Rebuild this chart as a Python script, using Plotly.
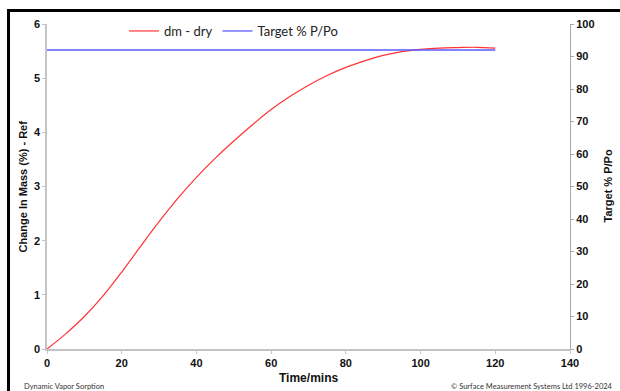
import plotly.graph_objects as go

time_min = [0, 5, 10, 15, 20, 25, 30, 35, 40, 45, 50, 55, 60, 65, 70, 75, 80, 85, 90, 95, 100, 105, 110, 115, 120]
dm_dry = [0, 0.28, 0.60, 0.98, 1.42, 1.89, 2.35, 2.78, 3.17, 3.52, 3.84, 4.14, 4.42, 4.66, 4.87, 5.05, 5.20, 5.32, 5.42, 5.49, 5.53, 5.555, 5.565, 5.57, 5.555]
target_time = [0, 120]
target_pp = [92, 92]

x_ticks = [0, 20, 40, 60, 80, 100, 120, 140]
y1_ticks = [0, 1, 2, 3, 4, 5, 6]
y2_ticks = [0, 10, 20, 30, 40, 50, 60, 70, 80, 90, 100]

W, H = 620, 391
L, R, T, B = 47, 50, 24, 42
pw, ph = W - L - R, H - T - B


def px_x(p):
    return (p - L) / pw


def px_y(p):
    return (H - B - p) / ph


tick_font = dict(family="Liberation Sans, Arial, sans-serif", size=11, color="#111111", weight="bold")
axis_color = "#c4c4c4"

fig = go.Figure()
fig.add_trace(go.Scatter(x=target_time, y=target_pp, mode="lines", name="Target % P/Po",
                         line=dict(color="#5a5aff", width=1.3), yaxis="y2"))
fig.add_trace(go.Scatter(x=time_min, y=dm_dry, mode="lines", name="dm - dry",
                         line=dict(color="#ff3333", width=1.2, shape="spline", smoothing=1.0)))

fig.update_layout(
    width=W, height=H,
    margin=dict(l=L, r=R, t=T, b=B),
    paper_bgcolor="white", plot_bgcolor="white",
    showlegend=True,
    legend=dict(orientation="h", x=px_x(124), y=px_y(31), xanchor="left", yanchor="middle",
                traceorder="reversed",
                font=dict(family="Lato, Open Sans, sans-serif", size=13, color="#222222"),
                bgcolor="rgba(0,0,0,0)", itemwidth=30),
    xaxis=dict(range=[0, 140], tickvals=x_ticks, showgrid=False, zeroline=False,
               showline=True, linecolor=axis_color, linewidth=1.5,
               ticks="outside", ticklen=3, tickcolor=axis_color, tickfont=tick_font),
    yaxis=dict(range=[0, 6], tickvals=y1_ticks, showgrid=False, zeroline=False,
               showline=True, linecolor=axis_color, linewidth=1.5,
               ticks="outside", ticklen=3, tickcolor=axis_color, tickfont=tick_font),
    yaxis2=dict(range=[0, 100], tickvals=y2_ticks, overlaying="y", side="right",
                showgrid=False, zeroline=False, showline=True, linecolor="#a8a8a8", linewidth=1,
                ticks="outside", ticklen=3, tickcolor="#a8a8a8", tickfont=tick_font),
)

title_font = dict(family="Liberation Sans, Arial, sans-serif", size=11, color="#111111", weight="bold")
annotations = [
    dict(text="Change In Mass (%) - Ref", x=px_x(22), y=0.5, xref="paper", yref="paper",
         textangle=-90, showarrow=False, font=title_font, xanchor="center", yanchor="middle"),
    dict(text="Target % P/Po", x=px_x(607), y=0.5, xref="paper", yref="paper",
         textangle=-90, showarrow=False, font=title_font, xanchor="center", yanchor="middle"),
    dict(text="Time/mins", x=0.5, y=px_y(378), xref="paper", yref="paper",
         showarrow=False, font=dict(family="Liberation Sans, Arial, sans-serif", size=12, color="#111111", weight="bold"),
         xanchor="center", yanchor="middle"),
    dict(text="Dynamic Vapor Sorption", x=px_x(22), y=px_y(386), xref="paper", yref="paper",
         showarrow=False, font=dict(family="Lato, sans-serif", size=7.5, color="#333333"),
         xanchor="left", yanchor="middle"),
    dict(text="© Surface Measurement Systems Ltd 1996-2024", x=px_x(615), y=px_y(386), xref="paper", yref="paper",
         showarrow=False, font=dict(family="Lato, sans-serif", size=7.5, color="#333333"),
         xanchor="right", yanchor="middle"),
]
fig.update_layout(annotations=annotations)

fig.add_shape(type="rect", xref="paper", yref="paper",
              x0=px_x(8.5), x1=px_x(660), y0=px_y(430), y1=px_y(10.5),
              line=dict(color="black", width=3), fillcolor="rgba(0,0,0,0)", layer="above")

fig.write_html("out.html")
